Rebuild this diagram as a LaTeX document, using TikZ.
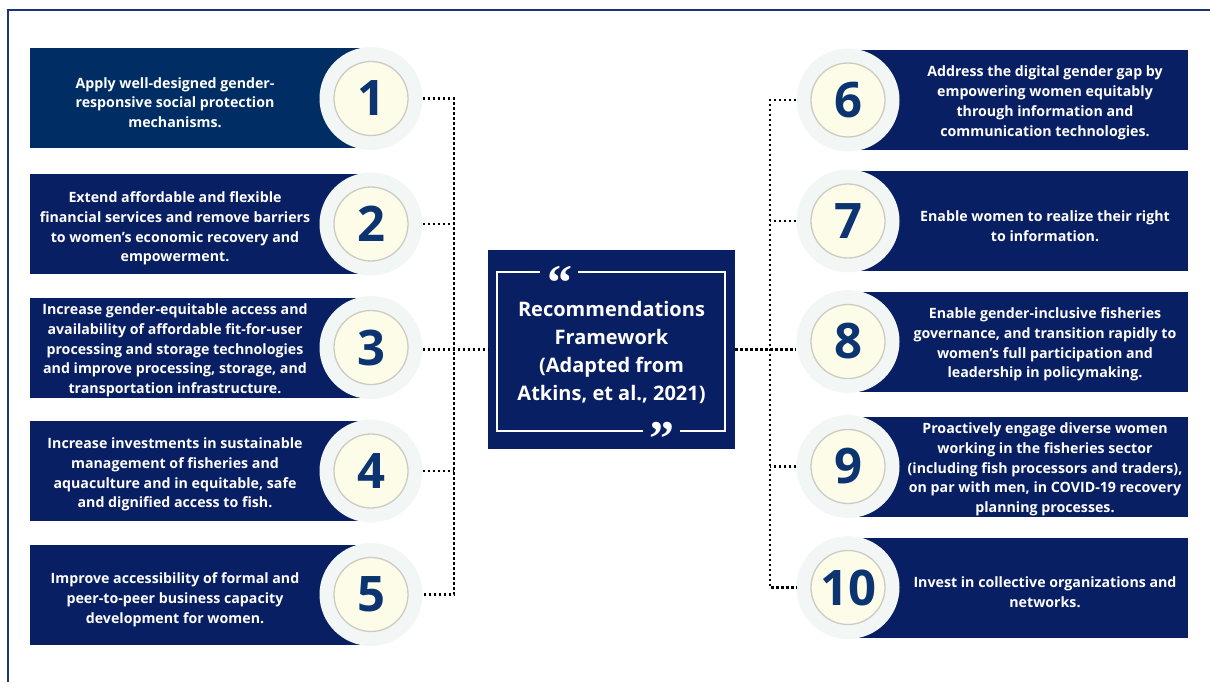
\documentclass[tikz,border=0pt]{standalone}
\usepackage{fontspec}
\setmainfont{Open Sans}
\newfontfamily\quotefont{Liberation Serif}
\usepackage{tikz}
\usetikzlibrary{positioning}

\definecolor{navy}{RGB}{9,31,99}
\definecolor{navyA}{RGB}{0,46,100}
\definecolor{halo}{RGB}{242,247,245}
\definecolor{cream}{RGB}{252,252,232}
\definecolor{ring}{RGB}{205,203,196}
\definecolor{numblue}{RGB}{12,52,112}
\definecolor{frameblue}{RGB}{28,52,118}

\begin{document}
\begin{tikzpicture}[x=1pt,y=1pt,yscale=-1,xscale=1,
  recbox/.style={fill=navy, minimum width=341pt, minimum height=100pt, inner sep=0pt},
  rectext/.style={text=white, align=center, inner sep=0pt, font=\bfseries\fontsize{14.2}{19.8}\selectfont},
  halodisc/.style={circle, fill=halo, minimum size=103pt, inner sep=0pt},
  numdisc/.style={circle, fill=cream, draw=ring, line width=1.3pt, minimum size=74pt, inner sep=0pt, text=numblue, font=\bfseries\fontsize{49}{49}\selectfont},
  dotline/.style={line width=2.6pt, dash pattern=on 2.6pt off 2.4pt},
  quotemark/.style={text=white, inner sep=0pt, anchor=north, text height=34pt, text depth=-21pt, font=\quotefont\bfseries\fontsize{50}{50}\selectfont}]
\useasboundingbox (0,0) rectangle (1210,682);

%Shape: outer frame
\draw [frameblue, line width=1.5pt] (8,682) -- (8,10) -- (1210,10) ;

%Shape: Rectangle (left column)
\node [recbox, fill=navyA] (box1) at (200.5,98.5) {};
\node [recbox] (box2) at (200.5,224) {};
\node [recbox] (box3) at (200.5,347.5) {};
\node [recbox] (box4) at (200.5,471) {};
\node [recbox] (box5) at (200.5,594.5) {};
%Shape: Rectangle (right column)
\node [recbox, minimum width=340pt] (box6) at (1018,100) {};
\node [recbox, minimum width=340pt] (box7) at (1018,221) {};
\node [recbox, minimum width=340pt] (box8) at (1018,341.5) {};
\node [recbox, minimum width=340pt] (box9) at (1018,466.5) {};
\node [recbox, minimum width=340pt] (box10) at (1018,587.5) {};

%Shape: Circle (halos)
\node [halodisc] (h1) at (371,98.5) {};
\node [halodisc] (h2) at (371,224) {};
\node [halodisc] (h3) at (371,347.5) {};
\node [halodisc] (h4) at (371,471) {};
\node [halodisc] (h5) at (371,594.5) {};
\node [halodisc] (h6) at (848,100) {};
\node [halodisc] (h7) at (848,221) {};
\node [halodisc] (h8) at (848,341.5) {};
\node [halodisc] (h9) at (848,466.5) {};
\node [halodisc] (h10) at (848,587.5) {};

%Shape: Circle (numbers)
\node [numdisc] (n1) at (h1) {1};
\node [numdisc] (n2) at (h2) {2};
\node [numdisc] (n3) at (h3) {3};
\node [numdisc] (n4) at (h4) {4};
\node [numdisc] (n5) at (h5) {5};
\node [numdisc] (n6) at (h6) {6};
\node [numdisc] (n7) at (h7) {7};
\node [numdisc] (n8) at (h8) {8};
\node [numdisc] (n9) at (h9) {9};
\node [numdisc] (n10) at (h10) {10};

% Text Node
\node [rectext] (t1) at (175,102.5) {Apply well-designed gender-\\responsive social protection\\mechanisms.};
% Text Node
\node [rectext] (t2) at (175,228.5) {Extend affordable and flexible\\financial services and remove barriers\\to women’s economic recovery and\\empowerment.};
% Text Node
\node [rectext] (t3) at (175,350.5) {Increase gender-equitable access and\\availability of affordable fit-for-user\\processing and storage technologies\\and improve processing, storage, and\\transportation infrastructure.};
% Text Node
\node [rectext] (t4) at (175,474.5) {Increase investments in sustainable\\management of fisheries and\\aquaculture and in equitable, safe\\and dignified access to fish.};
% Text Node
\node [rectext] (t5) at (175,600) {Improve accessibility of formal and\\peer-to-peer business capacity\\development for women.};
% Text Node
\node [rectext] (t6) at (1045,103) {Address the digital gender gap by\\empowering women equitably\\through information and\\communication technologies.};
% Text Node
\node [rectext] (t7) at (1045,226) {Enable women to realize their right\\to information.};
% Text Node
\node [rectext] (t8) at (1045,344.5) {Enable gender-inclusive fisheries\\governance, and transition rapidly to\\women’s full participation and\\leadership in policymaking.};
% Text Node
\node [rectext] (t9) at (1045,469.5) {Proactively engage diverse women\\working in the fisheries sector\\(including fish processors and traders),\\on par with men, in COVID-19 recovery\\planning processes.};
% Text Node
\node [rectext] (t10) at (1045,592) {Invest in collective organizations and\\networks.};

%Shape: Rectangle (centre)
\node [fill=navy, minimum width=247pt, minimum height=199pt, inner sep=0pt] (centre) at (611.5,349.5) {};
\draw [white, line width=1.5pt] (578,272) -- (725,272) -- (725,431) -- (680,431) ;
\draw [white, line width=1.5pt] (643,431) -- (497,431) -- (497,272) -- (540,272) ;
\node [quotemark] (qopen) at (560,265) {“};
\node [quotemark] (qclose) at (662,421) {”};
% Text Node
\node [text=white, align=center, inner sep=0pt, font=\bfseries\fontsize{20}{28}\selectfont] (title) at (611.5,352) {Recommendations\\Framework\\(Adapted from\\Atkins, et al., 2021)};

%Straight Lines (left trunk)
\coordinate (lj1) at (454,98.5);
\coordinate (lj2) at (454,224);
\coordinate (lj3) at (454,349.5);
\coordinate (lj4) at (454,471);
\coordinate (lj5) at (454,594.5);
\draw [dotline] (h1.east) -- (lj1) -- (lj5) -- (h5.east) ;
\draw [dotline] (h2.east) -- (lj2) ;
\draw [dotline] (h3.east |- lj3) -- (lj3) -- (centre.west) ;
\draw [dotline] (h4.east) -- (lj4) ;

%Straight Lines (right trunk)
\coordinate (rj6) at (770,100);
\coordinate (rj7) at (770,221);
\coordinate (rj8) at (770,349.5);
\coordinate (rj9) at (770,466.5);
\coordinate (rj10) at (770,587.5);
\draw [dotline] (h6.west) -- (rj6) -- (rj10) -- (h10.west) ;
\draw [dotline] (h7.west) -- (rj7) ;
\draw [dotline] (centre.east) -- (rj8) -- (h8.west |- rj8) ;
\draw [dotline] (h9.west) -- (rj9) ;

\end{tikzpicture}
\end{document}
